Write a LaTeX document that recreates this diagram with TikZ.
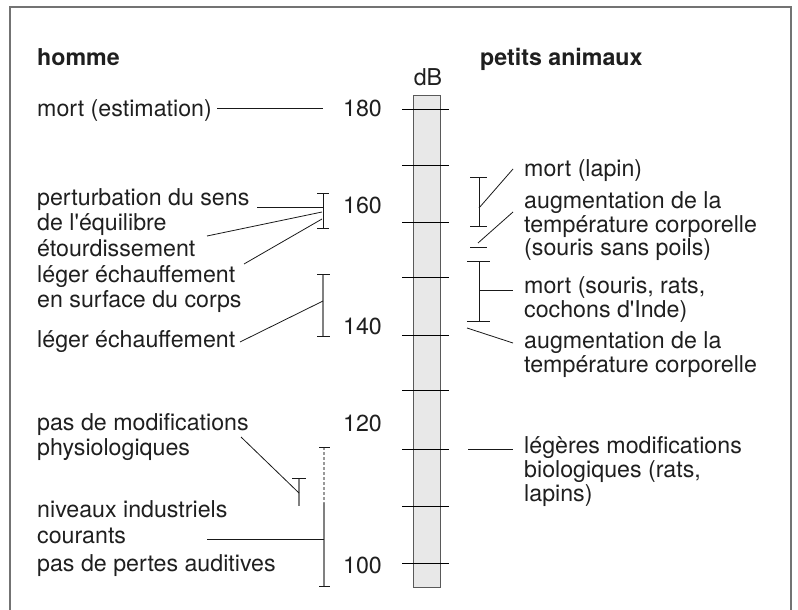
\documentclass[tikz,border=0pt]{standalone}
\usepackage{fontspec}
\setmainfont{TeX Gyre Heros}[Ligatures=TeXOff]
\begin{document}
\begin{tikzpicture}[x=1pt,y=-1pt,
  txt/.style={anchor=base west, inner sep=0pt, font=\fontsize{23.2}{25}\selectfont, text=black!88},
  hd/.style={txt, font=\fontsize{23.2}{25}\selectfont\bfseries},
  num/.style={anchor=base east, inner sep=0pt, font=\fontsize{23.2}{25}\selectfont, text=black!88},
  ln/.style={line width=0.8pt, black!90},
  gv/.style={line width=1.5pt, black!50},
  frame/.style={line width=1.5pt, black!55},
  ]
\useasboundingbox (0,0) rectangle (798,610);
\draw[frame] (10,610) -- (10,7) -- (791,7) -- (791,610);

% scale bar
\draw[fill=black!9, draw=black!65, line width=1pt] (413,95) rectangle (440,587);
\foreach \yy in {109,165,222,277,335,390,449,506,563}
  \draw[line width=0.9pt, black] (402,\yy) -- (449,\yy);
\node[anchor=base, inner sep=0pt, font=\fontsize{23.2}{25}\selectfont, text=black!88] (db) at (428,85) {dB};
\node[num] (n180) at (382,117) {180};
\node[num] (n160) at (382,213) {160};
\node[num] (n140) at (382,334) {140};
\node[num] (n120) at (382,431) {120};
\node[num] (n100) at (382,573) {100};

% left column
\node[hd] (homme) at (37,66) {homme};
\node[txt] (l1) at (37,117) {mort (estimation)};
\node[txt] (l2) at (37,205) {perturbation du sens};
\node[txt] (l3) at (37,230) {de l'équilibre};
\node[txt] (l4) at (37,256) {étourdissement};
\node[txt] (l5) at (37,282) {léger échauffement};
\node[txt] (l6) at (37,307) {en surface du corps};
\node[txt] (l7) at (37,347) {léger échauffement};
\node[txt] (l8) at (37,430) {pas de modifications};
\node[txt] (l9) at (37,455) {physiologiques};
\node[txt] (l10) at (37,517) {niveaux industriels};
\node[txt] (l11) at (37,543) {courants};
\node[txt] (l12) at (37,571) {pas de pertes auditives};

% left connectors
\coordinate (a1) at (217,108); \coordinate (a2) at (323,108);
\draw[ln] (a1) -- (a2);
% bracket 155-165
\coordinate (b1t) at (323,193); \coordinate (b1b) at (323,228);
\draw[ln] (b1t) -- (b1b);
\draw[ln] ([xshift=-6pt]b1t) -- ([xshift=6pt]b1t);
\draw[ln] ([xshift=-6pt]b1b) -- ([xshift=6pt]b1b);
\coordinate (c1) at (257,207); \coordinate (c1e) at (323,207);
\draw[ln] (c1) -- (c1e);
\coordinate (c2) at (207,236); \coordinate (c2e) at (322,212);
\draw[ln] (c2) -- (c2e);
\coordinate (c3) at (244,264); \coordinate (c3e) at (322,219);
\draw[ln] (c3) -- (c3e);
% bracket 138-150
\coordinate (b2t) at (323,274); \coordinate (b2b) at (323,336);
\draw[gv] (b2t) -- (b2b);
\draw[ln] ([xshift=-6pt]b2t) -- ([xshift=7pt]b2t);
\draw[ln] ([xshift=-6pt]b2b) -- ([xshift=7pt]b2b);
\coordinate (c4) at (240,342); \coordinate (c4e) at (323,301);
\draw[ln] (c4) -- (c4e);
% small bracket
\coordinate (b3t) at (299,478); \coordinate (b3b) at (299,506);
\draw[gv] (b3t) -- (b3b);
\draw[ln] ([xshift=-7pt]b3t) -- ([xshift=7pt]b3t);
\coordinate (c5) at (241,437); \coordinate (c5e) at (299,493);
\draw[ln] (c5) -- (c5e);
% industrial bracket
\coordinate (b4t) at (324,447); \coordinate (b4m) at (324,503); \coordinate (b4b) at (324,586);
\draw[gv, black!40, dash pattern=on 3pt off 2pt] (b4t) -- (b4m);
\draw[gv] (b4m) -- (b4b);
\draw[ln] ([xshift=-5pt]b4t) -- ([xshift=6pt]b4t);
\draw[ln] ([xshift=-5pt]b4b) -- ([xshift=6pt]b4b);
\coordinate (c6) at (207,539); \coordinate (c6e) at (324,539);
\draw[ln] (c6) -- (c6e);

% right column
\node[hd] (petits) at (480,66) {petits animaux};
\node[txt] (r1) at (524,176) {mort (lapin)};
\node[txt] (r2) at (524,208) {augmentation de la};
\node[txt] (r3) at (524,232) {température corporelle};
\node[txt] (r4) at (524,255) {(souris sans poils)};
\node[txt] (r5) at (524,293) {mort (souris, rats,};
\node[txt] (r6) at (524,317) {cochons d'Inde)};
\node[txt] (r7) at (524,348) {augmentation de la};
\node[txt] (r8) at (524,372) {température corporelle};
\node[txt] (r9) at (524,453) {légères modifications};
\node[txt] (r10) at (524,477) {biologiques (rats,};
\node[txt] (r11) at (524,501) {lapins)};

% right connectors
\coordinate (d1t) at (479,177); \coordinate (d1b) at (479,226);
\draw[ln] (d1t) -- (d1b);
\draw[ln] ([xshift=-9pt]d1t) -- ([xshift=8pt]d1t);
\draw[ln] ([xshift=-9pt]d1b) -- ([xshift=8pt]d1b);
\coordinate (e1) at (513,169); \coordinate (e1e) at (479,208);
\draw[ln] (e1) -- (e1e);
\coordinate (d2) at (479,247);
\draw[ln] ([xshift=-9pt]d2) -- ([xshift=8pt]d2);
\coordinate (e2) at (513,212); \coordinate (e2e) at (478,243);
\draw[ln] (e2) -- (e2e);
\coordinate (d3t) at (479,261); \coordinate (d3b) at (479,321);
\draw[ln] (d3t) -- (d3b);
\draw[ln] ([xshift=-12pt]d3t) -- ([xshift=11pt]d3t);
\draw[ln] ([xshift=-12pt]d3b) -- ([xshift=11pt]d3b);
\coordinate (e3) at (479,290); \coordinate (e3e) at (513,290);
\draw[ln] (e3) -- (e3e);
\coordinate (e4) at (467,328); \coordinate (e4e) at (513,343);
\draw[ln] (e4) -- (e4e);
\coordinate (e5) at (468,449); \coordinate (e5e) at (513,449);
\draw[ln] (e5) -- (e5e);
\end{tikzpicture}
\end{document}
